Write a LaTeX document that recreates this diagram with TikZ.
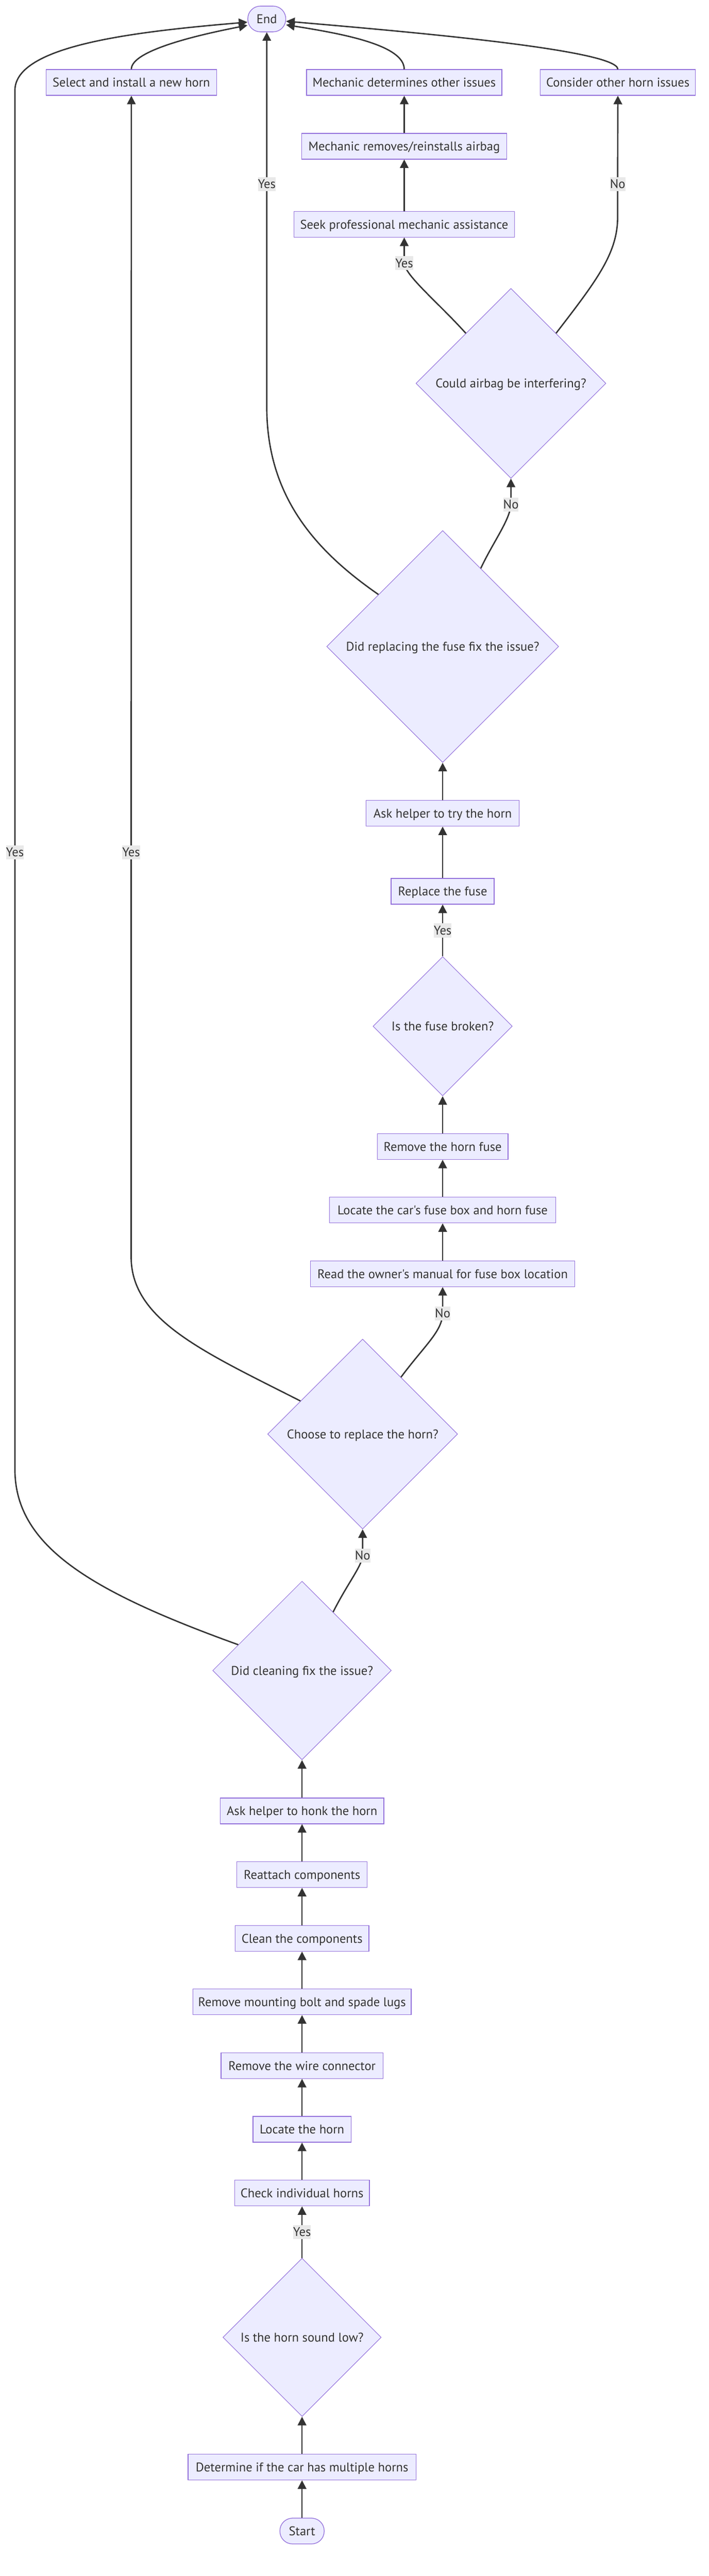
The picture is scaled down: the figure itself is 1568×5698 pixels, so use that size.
\documentclass[tikz,border=0pt]{standalone}
\usepackage{fontspec}
\setmainfont{PT Sans}[Ligatures=TeXOff]
\usetikzlibrary{shapes.geometric,arrows.meta}

\definecolor{nodefill}{HTML}{ECECFF}
\definecolor{nodeline}{HTML}{9370DB}
\definecolor{edgeline}{HTML}{333333}
\definecolor{lblfill}{HTML}{E9E9E9}
\definecolor{txt}{HTML}{333333}

\begin{document}
\begin{tikzpicture}[x=1pt,y=-1pt,
	font=\fontsize{28}{34}\selectfont, text=txt,
	box/.style={draw=nodeline, fill=nodefill, line width=1.5pt, minimum height=57pt,
		inner sep=3pt, text height=21pt, text depth=1pt},
	term/.style={box, rounded corners=28pt},
	ask/.style={diamond, aspect=1, draw=nodeline, fill=nodefill, line width=1.2pt,
		inner sep=0pt, text height=21pt, text depth=1pt},
	arr/.style={draw=edgeline, line width=3pt, -{Triangle[length=19pt,width=19pt]}},
	lbl/.style={fill=lblfill, inner sep=0pt, text height=25pt, text depth=6pt}]
	\useasboundingbox (0,0) rectangle (1568,5698);

	\node[term, minimum width=84pt] (done) at (590,42) {End};
	\node[box, minimum width=377pt] (newhorn) at (290.5,182.5) {Select and install a new horn};
	\node[box, minimum width=432pt] (mechother) at (894,182.5) {Mechanic determines other issues};
	\node[box, minimum width=343pt] (otherissues) at (1366.5,182.5) {Consider other horn issues};
	\node[box, minimum width=454pt] (airbagfix) at (894,323.5) {Mechanic removes/reinstalls airbag};
	\node[box, minimum width=488pt] (mechanic) at (894,496) {Seek professional mechanic assistance};
	\node[ask, minimum size=420pt] (airbag) at (1130,848) {Could airbag be interfering?};
	\node[ask, minimum size=513pt] (fusefixed) at (979,1430) {Did replacing the fuse fix the issue?};
	\node[box, minimum width=339pt] (tryhorn) at (979,1799) {Ask helper to try the horn};
	\node[box, minimum width=228pt] (newfuse) at (979,1971.5) {Replace the fuse};
	\node[ask, minimum size=308pt] (fusebroken) at (979,2270) {Is the fuse broken?};
	\node[box, minimum width=289pt] (pullfuse) at (979,2536) {Remove the horn fuse};
	\node[box, minimum width=500pt] (fusebox) at (979,2676.5) {Locate the car's fuse box and horn fuse};
	\node[box, minimum width=585pt] (manual) at (979,2817.5) {Read the owner's manual for fuse box location};
	\node[ask, minimum size=420pt] (replace) at (802,3172) {Choose to replace the horn?};
	\node[ask, minimum size=395pt] (cleaned) at (668,3695) {Did cleaning fix the issue?};
	\node[box, minimum width=362pt] (honk) at (668,4005.5) {Ask helper to honk the horn};
	\node[box, minimum width=288pt] (reattach) at (668,4146.5) {Reattach components};
	\node[box, minimum width=296pt] (clean) at (668,4287.5) {Clean the components};
	\node[box, minimum width=483pt] (bolt) at (668,4428) {Remove mounting bolt and spade lugs};
	\node[box, minimum width=358pt] (wire) at (668,4569) {Remove the wire connector};
	\node[box, minimum width=217pt] (locate) at (668,4710) {Locate the horn};
	\node[box, minimum width=298pt] (check) at (668,4851) {Check individual horns};
	\node[ask, minimum size=350pt] (low) at (668,5170) {Is the horn sound low?};
	\node[box, minimum width=504pt] (multi) at (668,5457) {Determine if the car has multiple horns};
	\node[term, minimum width=98pt] (start) at (668,5598.5) {Start};

	\draw[arr] (start) -- (multi);
	\draw[arr] (multi) -- (low);
	\draw[arr] (low) -- node[lbl] {Yes} (check);
	\draw[arr] (check) -- (locate);
	\draw[arr] (locate) -- (wire);
	\draw[arr] (wire) -- (bolt);
	\draw[arr] (bolt) -- (clean);
	\draw[arr] (clean) -- (reattach);
	\draw[arr] (reattach) -- (honk);
	\draw[arr] (honk) -- (cleaned);
	\draw[arr] (cleaned.62) .. controls (770,3500) and (800,3465) .. (802,3441) node[lbl] {No} -- (replace.south);
	\draw[arr] (cleaned.158) .. controls (200,3520) and (33,3420) .. (33,3250) -- (33,1885) node[lbl] {Yes}
		-- (33,200) .. controls (33,100) and (300,70) .. ([yshift=-7pt]done.west);
	\draw[arr] (replace.152) .. controls (450,2990) and (290,2920) .. (290,2780) -- (290,1885) node[lbl] {Yes}
		-- (newhorn.south);
	\draw[arr] (replace.56) .. controls (940,2975) and (978,2945) .. (979,2905) node[lbl] {No} -- (manual.south);
	\draw[arr] (manual) -- (fusebox);
	\draw[arr] (fusebox) -- (pullfuse);
	\draw[arr] (pullfuse) -- (fusebroken);
	\draw[arr] (fusebroken) -- node[lbl] {Yes} (newfuse);
	\draw[arr] (newfuse) -- (tryhorn);
	\draw[arr] (tryhorn) -- (fusefixed);
	\draw[arr] (fusefixed.141) .. controls (700,1220) and (590,1100) .. (590,900) -- (590,407) node[lbl] {Yes}
		-- (done.south);
	\draw[arr] (fusefixed.64) .. controls (1090,1200) and (1128,1150) .. (1130,1116) node[lbl] {No} -- (airbag.south);
	\draw[arr] (airbag.132) .. controls (970,670) and (896,610) .. (894,582) node[lbl] {Yes} -- (mechanic.south);
	\draw[arr] (airbag.48) .. controls (1320,620) and (1366,560) .. (1366,480) -- (1366,407) node[lbl] {No}
		-- (otherissues.south);
	\draw[arr] (mechanic) -- (airbagfix);
	\draw[arr] (airbagfix) -- (mechother);
	\draw[arr] (newhorn.north) .. controls (290,110) and (450,75) .. ([yshift=-14pt]done.west);
	\draw[arr] (mechother.north) .. controls (894,100) and (760,75) .. ([yshift=-13pt]done.east);
	\draw[arr] (otherissues.north) .. controls (1366,110) and (900,70) .. ([yshift=-5pt]done.east);
\end{tikzpicture}
\end{document}
